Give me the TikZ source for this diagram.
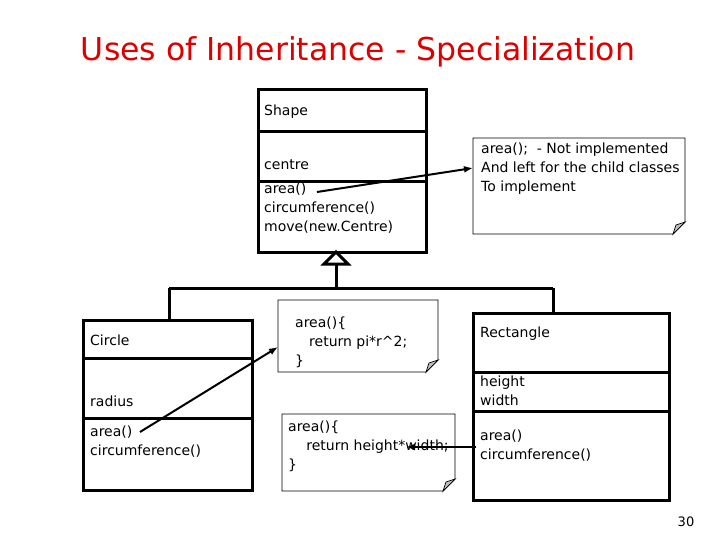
\documentclass[tikz,border=0pt]{standalone}
\usepackage{fontspec}
\setmainfont{DejaVu Sans}
\usetikzlibrary{arrows.meta}
\begin{document}
\begin{tikzpicture}[x=1pt,y=-1pt,
  cls/.style={line width=3pt},
  txt/.style={anchor=west,inner sep=0pt,font=\fontsize{14}{19}\selectfont,align=left},
  note/.style={line width=0.7pt},
  arr/.style={line width=2pt,-{Latex[length=9pt,width=7pt]}}]
\useasboundingbox (0,0) rectangle (720,540);
\node[text={rgb,255:red,220;green,0;blue,0},font=\fontsize{31.5}{36}\selectfont] (title) at (358,52) {Uses of Inheritance - Specialization};
% Shape
\draw[cls] (258,90) rectangle (426,252);
\draw[cls] (258,132) -- (426,132) (258,182) -- (426,182);
\node[txt] (sn) at (264,112) {Shape};
\node[txt] (sa) at (264,165) {centre};
\node[txt,anchor=north west] (sm) at (264,183) {area()\\circumference()\\move(new.Centre)};
% inheritance
\draw[cls] (336,264) -- (336,288) (169,288) -- (553,288) (169,288) -- (169,320) (553,288) -- (553,313);
\draw[cls,fill=white] (336,252) -- (348,264) -- (324,264) -- cycle;
% Circle
\draw[cls] (83,320) rectangle (252,490);
\draw[cls] (83,358) -- (252,358) (83,418) -- (252,418);
\node[txt] (cn) at (90,340) {Circle};
\node[txt] (ca) at (90,401) {radius};
\node[txt,anchor=north west] (cm) at (90,426) {area()\\circumference()};
% Rectangle
\draw[cls] (473,313) rectangle (669,500);
\draw[cls] (473,372) -- (669,372) (473,411) -- (669,411);
\node[txt] (rn) at (480,334) {Rectangle};
\node[txt,anchor=north west] (ra) at (480,376) {height\\width};
\node[txt,anchor=north west] (rm) at (480,430) {area()\\circumference()};
% notes
\newcommand{\mynote}[4]{%
  \draw[note] (#1,#2) -- (#3,#2) -- (#3,#4-12) -- (#3-12,#4) -- (#1,#4) -- cycle;
  \draw[note,fill=gray!50] (#3,#4-12) -- (#3-12,#4) -- (#3-9,#4-9) -- cycle;}
\mynote{473}{138}{685}{234}
\node[txt,anchor=north west] (n1) at (481,143) {area();\ \ - Not implemented\\And left for the child classes\\To implement};
\mynote{278}{300}{438}{372}
\node[txt,anchor=north west] (n2) at (295,317) {area()\{\\\hspace*{1em}return pi*r\textasciicircum2;\\\}};
\mynote{282}{414}{455}{491}
\node[txt,anchor=north west] (n3) at (288,421) {area()\{\\\hspace*{1.3em}return height*width;\\\}};
\coordinate (a1) at (317,192); \coordinate (b1) at (473,168);
\coordinate (a2) at (140,432); \coordinate (b2) at (278,347);
\coordinate (a3) at (476,447); \coordinate (b3) at (406,447);
\draw[arr] (a1) -- (b1);
\draw[arr] (a2) -- (b2);
\draw[arr] (a3) -- (b3);
\node[font=\fontsize{13}{14}\selectfont] (pg) at (686,522) {30};
\end{tikzpicture}
\end{document}
